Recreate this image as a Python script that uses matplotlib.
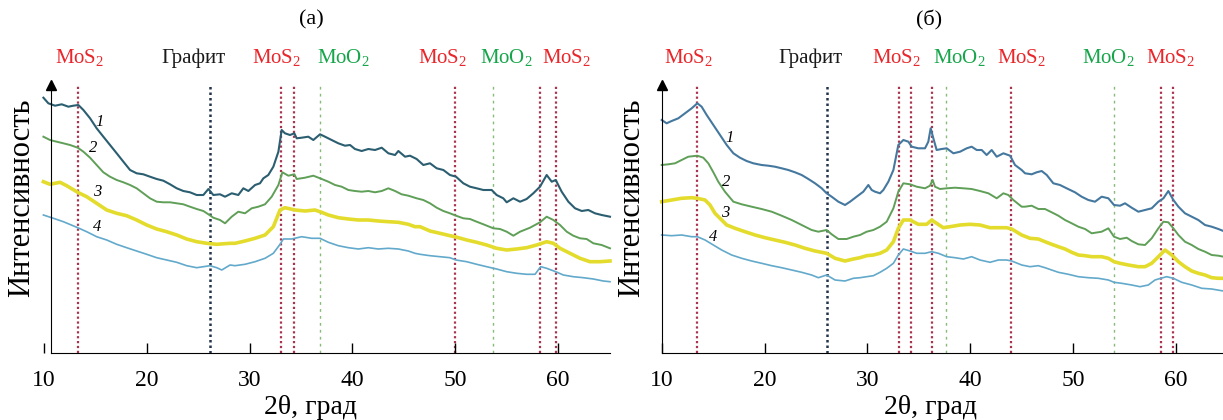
import matplotlib
matplotlib.use("Agg")
import matplotlib.pyplot as plt

plt.rcParams['font.family'] = ['Liberation Serif', 'DejaVu Serif']
plt.rcParams['mathtext.fontset'] = 'custom'
plt.rcParams['mathtext.rm'] = 'Liberation Serif'
plt.rcParams['mathtext.it'] = 'Liberation Serif:italic'

# ---- panel (a) curves: 2theta (deg), intensity (a.u.) ----
a1_x = [9.94, 10.42, 11.07, 11.72, 12.37, 12.85, 13.34, 13.83, 14.48, 15.12, 15.77, 16.42, 17.07, 17.72, 18.37, 19.01,
        19.66, 20.31, 20.96, 21.61, 22.26, 22.91, 23.55, 24.20, 24.85, 25.50, 25.99, 26.47, 27.12, 27.61, 28.26, 28.90,
        29.39, 29.88, 30.53, 31.01, 31.34, 31.82, 32.31, 32.80, 33.12, 33.44, 33.93, 34.35, 34.58, 35.07, 35.71, 36.20,
        36.85, 37.34, 37.98, 38.63, 39.28, 39.77, 40.25, 40.90, 41.55, 42.20, 42.85, 43.50, 44.15, 44.47, 45.12, 45.60,
        46.25, 46.90, 47.55, 48.20, 48.85, 49.49, 50.08, 50.79, 51.44, 52.09, 52.74, 53.55, 54.03, 54.68, 55.01, 55.66,
        56.31, 56.95, 57.60, 58.25, 58.90, 59.39, 59.78, 60.36, 61.01, 61.66, 62.31, 62.95, 63.60, 64.25, 65.06]
a1_y = [255.3, 249.7, 247.3, 248.7, 246.3, 247.3, 248.0, 243.0, 234.7, 224.7, 216.3, 208.0, 199.7, 191.3, 183.0, 179.7,
        178.7, 176.3, 174.0, 172.3, 168.7, 164.7, 162.0, 160.7, 158.0, 158.0, 164.0, 158.0, 158.7, 156.3, 159.7, 158.0,
        164.7, 162.0, 168.0, 169.7, 174.7, 178.0, 186.3, 201.3, 223.0, 219.7, 218.0, 219.7, 214.7, 215.3, 216.3, 213.0,
        218.7, 216.3, 213.0, 209.7, 207.3, 208.0, 204.0, 202.0, 204.0, 203.0, 205.3, 199.7, 198.0, 202.0, 196.3, 197.3,
        194.0, 188.0, 189.7, 184.7, 183.0, 178.0, 176.3, 169.7, 166.3, 164.7, 163.0, 163.0, 158.0, 154.7, 150.7, 154.7,
        151.3, 154.0, 159.7, 166.3, 178.0, 171.3, 173.0, 161.3, 151.3, 144.7, 142.0, 143.0, 139.7, 138.0, 136.3]

a2_x = [9.94, 10.58, 11.23, 11.88, 12.53, 13.28, 13.83, 14.48, 15.12, 15.77, 16.42, 17.07, 17.72, 18.37, 19.01, 19.66,
        20.31, 20.96, 21.61, 22.26, 22.91, 23.55, 24.20, 24.85, 25.50, 25.99, 26.47, 27.12, 27.61, 28.26, 28.90, 29.55,
        30.20, 30.85, 31.50, 32.15, 32.80, 33.19, 33.77, 34.35, 34.58, 35.39, 36.20, 36.85, 37.66, 38.31, 38.96, 39.61,
        40.25, 40.90, 41.55, 42.20, 42.85, 43.50, 44.15, 44.79, 45.44, 46.25, 46.90, 47.55, 48.20, 48.85, 49.49, 50.08,
        50.79, 51.44, 52.09, 52.74, 53.71, 54.36, 55.01, 55.66, 56.31, 57.28, 58.25, 58.90, 59.55, 60.20, 60.85, 61.49,
        62.14, 62.79, 63.44, 64.25, 65.06]
a2_y = [216.3, 213.0, 211.3, 209.7, 208.0, 205.3, 201.3, 195.3, 188.0, 180.7, 176.3, 173.0, 170.7, 168.0, 164.7, 159.7,
        154.7, 151.3, 150.7, 150.7, 149.7, 148.7, 146.3, 144.0, 142.0, 138.7, 135.3, 133.0, 129.7, 136.3, 141.3, 139.7,
        144.7, 146.3, 148.7, 156.3, 168.0, 180.7, 177.3, 178.7, 174.0, 175.3, 177.3, 174.7, 171.3, 168.0, 166.3, 163.0,
        162.0, 161.3, 162.0, 160.7, 162.0, 164.7, 162.0, 158.7, 157.3, 154.7, 153.0, 149.7, 145.3, 142.0, 139.7, 137.3,
        134.7, 134.0, 131.3, 128.7, 124.7, 124.0, 121.3, 117.3, 121.3, 125.3, 130.7, 136.3, 133.0, 128.0, 121.3, 117.3,
        114.7, 114.0, 109.7, 108.0, 104.7]

a3_x = [9.94, 10.58, 11.56, 12.20, 13.28, 14.15, 15.12, 16.10, 17.07, 18.04, 19.01, 19.99, 20.96, 21.93, 22.91, 23.88,
        24.85, 25.83, 26.80, 28.10, 28.58, 29.55, 30.53, 31.50, 32.31, 32.96, 33.44, 34.42, 35.39, 36.36, 37.01, 37.66,
        38.63, 39.61, 40.58, 41.55, 42.52, 43.50, 44.47, 45.44, 46.09, 46.58, 47.55, 48.52, 49.49, 50.08, 51.12, 52.09,
        53.06, 54.03, 55.01, 55.98, 56.95, 57.93, 58.90, 59.55, 60.20, 61.17, 62.14, 63.11, 64.09, 65.06]
a3_y = [171.3, 168.7, 170.7, 167.3, 160.7, 156.3, 149.7, 143.0, 139.7, 137.3, 133.0, 128.0, 124.0, 121.3, 118.0, 114.0,
        111.3, 109.7, 108.7, 109.7, 109.7, 112.0, 114.7, 118.0, 126.3, 143.0, 145.3, 143.0, 142.0, 143.0, 140.7, 138.0,
        135.3, 134.0, 133.0, 133.0, 132.0, 131.3, 130.7, 128.7, 126.3, 126.3, 122.0, 119.7, 117.3, 116.0, 113.0, 110.7,
        108.0, 104.7, 103.0, 104.0, 105.3, 108.0, 111.3, 109.7, 104.7, 99.7, 94.7, 91.3, 91.3, 92.0]

a4_x = [9.94, 10.91, 11.88, 13.28, 14.15, 15.12, 16.10, 17.07, 18.04, 19.01, 19.99, 20.96, 21.93, 22.91, 23.88, 24.85,
        25.50, 26.15, 26.80, 27.29, 28.10, 28.58, 29.55, 30.53, 31.50, 32.31, 32.96, 33.28, 34.09, 35.07, 36.04, 36.85,
        37.66, 38.63, 39.61, 40.58, 41.55, 42.52, 43.50, 44.47, 45.44, 46.09, 46.58, 47.55, 48.52, 49.49, 50.08, 51.12,
        52.09, 53.06, 54.03, 55.01, 55.98, 56.95, 57.77, 58.32, 58.90, 59.78, 60.52, 61.49, 62.47, 63.44, 64.41, 65.06]
a4_y = [138.0, 134.7, 131.3, 125.3, 121.3, 116.3, 113.0, 108.7, 105.3, 102.0, 98.7, 95.3, 93.0, 90.7, 87.3, 85.3,
        86.3, 87.3, 85.3, 83.0, 88.0, 87.3, 88.7, 91.3, 94.7, 99.7, 108.7, 114.0, 114.0, 116.3, 114.7, 114.7,
        110.7, 107.3, 105.3, 104.0, 105.3, 104.0, 104.7, 104.0, 102.0, 99.7, 98.7, 97.3, 96.3, 95.3, 93.0, 91.3,
        88.7, 86.3, 84.0, 81.3, 79.7, 78.7, 78.7, 86.3, 84.7, 81.3, 78.0, 76.3, 75.3, 74.0, 72.0, 71.3]

# ---- panel (б) curves ----
b1_x = [9.97, 10.45, 10.94, 11.59, 12.24, 12.89, 13.44, 13.86, 14.35, 15.00, 15.65, 16.30, 16.95, 17.59, 18.24, 18.89,
        19.70, 20.35, 21.00, 21.65, 22.30, 22.95, 23.60, 24.25, 24.90, 25.55, 26.03, 26.52, 27.17, 27.82, 28.31, 28.95,
        29.60, 30.09, 30.42, 30.74, 31.23, 31.55, 32.04, 32.53, 33.01, 33.50, 33.99, 34.31, 34.96, 35.61, 35.93, 36.16,
        36.42, 36.74, 37.23, 37.72, 38.37, 39.02, 39.67, 40.15, 40.64, 41.13, 41.61, 42.10, 42.59, 43.24, 43.89, 44.37,
        45.02, 45.35, 45.99, 46.48, 46.97, 47.46, 48.10, 48.75, 49.40, 50.21, 50.86, 51.51, 52.16, 52.81, 53.46, 54.01,
        54.60, 55.08, 55.73, 56.38, 57.03, 57.68, 58.33, 58.82, 59.30, 59.79, 60.28, 60.92, 61.58, 62.22, 62.87, 63.52,
        64.17, 64.66]
b1_y = [233.0, 229.7, 232.0, 234.7, 239.7, 244.7, 249.7, 246.3, 238.0, 228.0, 218.0, 208.0, 199.7, 195.3, 192.0, 189.7,
        188.0, 187.3, 186.3, 184.7, 183.0, 180.7, 178.0, 174.0, 169.7, 164.7, 159.7, 156.3, 151.3, 148.0, 151.3, 156.3,
        161.3, 168.0, 163.0, 161.3, 159.7, 163.0, 171.3, 183.0, 208.0, 213.0, 211.3, 206.3, 204.7, 204.7, 211.3, 224.7,
        214.7, 203.0, 204.0, 204.7, 199.7, 201.3, 204.7, 206.3, 203.0, 203.0, 198.0, 203.0, 196.3, 199.7, 197.3, 188.0,
        183.0, 179.7, 178.7, 180.7, 182.0, 178.0, 169.7, 168.0, 164.7, 160.7, 156.3, 153.0, 151.3, 156.3, 154.7, 148.0,
        147.3, 149.7, 145.3, 141.3, 143.0, 144.7, 151.3, 154.7, 162.0, 153.0, 146.3, 139.7, 136.3, 133.0, 128.0, 126.3,
        124.0, 122.0]

b2_x = [9.97, 10.62, 11.27, 11.91, 12.56, 13.44, 14.02, 14.51, 15.00, 15.48, 16.13, 16.95, 17.76, 18.73, 19.70, 20.68,
        21.65, 22.63, 23.60, 24.57, 25.22, 26.03, 26.52, 27.17, 27.98, 28.63, 29.28, 29.93, 30.58, 31.23, 31.88, 32.53,
        33.01, 33.50, 34.15, 34.80, 35.61, 36.09, 36.35, 36.58, 37.07, 37.72, 38.53, 39.34, 40.15, 40.96, 41.78, 42.59,
        43.24, 43.72, 44.21, 45.02, 45.35, 45.99, 46.64, 47.29, 47.94, 48.59, 49.24, 49.89, 50.54, 51.19, 51.84, 52.81,
        53.46, 54.01, 54.60, 55.25, 55.73, 56.38, 57.03, 57.68, 58.33, 58.82, 59.30, 59.79, 60.28, 60.92, 61.58, 62.22,
        62.87, 63.52, 64.17, 64.66]
b2_y = [188.0, 188.7, 189.7, 193.0, 196.3, 197.3, 195.3, 189.7, 180.7, 171.3, 161.3, 151.3, 148.7, 146.3, 144.0, 141.3,
        137.3, 133.0, 128.0, 123.0, 121.3, 123.0, 118.7, 114.0, 114.0, 116.3, 118.0, 121.3, 123.0, 126.3, 131.3, 144.7,
        161.3, 169.7, 168.7, 166.3, 164.7, 167.3, 173.0, 166.3, 164.0, 164.7, 165.3, 164.7, 164.0, 162.0, 159.7, 154.7,
        159.7, 158.0, 153.0, 146.3, 146.3, 147.3, 144.0, 144.0, 140.7, 137.3, 133.0, 129.7, 126.3, 124.0, 119.7, 121.3,
        124.7, 116.3, 114.0, 115.3, 112.0, 108.7, 108.0, 114.7, 124.7, 131.3, 130.7, 124.7, 118.0, 111.3, 108.0, 104.0,
        101.3, 98.0, 97.3, 96.3]

b3_x = [9.97, 10.94, 11.91, 12.89, 13.44, 14.19, 14.67, 15.16, 15.81, 16.30, 17.11, 18.08, 19.06, 20.03, 21.00, 21.98,
        22.95, 23.92, 24.90, 26.03, 26.85, 27.82, 28.63, 29.28, 29.93, 30.58, 31.23, 31.88, 32.53, 33.01, 33.50, 34.15,
        34.96, 35.77, 36.26, 36.74, 37.39, 38.04, 39.02, 39.99, 40.96, 41.94, 42.75, 43.56, 44.05, 45.02, 45.83, 46.64,
        47.29, 47.94, 48.59, 49.24, 49.89, 50.54, 51.19, 51.84, 52.81, 53.46, 54.01, 54.60, 55.41, 56.38, 57.03, 57.68,
        58.33, 58.98, 59.63, 60.28, 60.92, 61.58, 62.22, 62.87, 63.52, 64.17, 64.66]
b3_y = [151.3, 153.0, 154.7, 155.3, 154.7, 153.0, 148.0, 139.7, 133.0, 128.0, 124.7, 121.3, 118.0, 115.3, 113.0, 110.7,
        108.0, 104.7, 102.0, 99.7, 94.7, 92.0, 94.0, 95.3, 97.3, 98.0, 99.7, 103.0, 111.3, 124.7, 133.0, 133.0,
        128.7, 128.7, 133.0, 129.7, 125.3, 126.3, 128.0, 128.7, 128.0, 125.3, 125.3, 125.3, 124.0, 118.0, 114.7, 114.0,
        111.3, 108.7, 106.3, 104.0, 100.7, 98.0, 97.3, 96.3, 96.3, 94.7, 91.3, 89.7, 88.0, 86.3, 86.3, 89.7,
        96.3, 103.0, 98.0, 91.3, 86.3, 82.0, 79.7, 78.0, 75.3, 74.7, 74.7]

b4_x = [9.97, 10.94, 11.91, 12.89, 13.44, 14.19, 15.00, 15.81, 16.78, 17.76, 18.73, 19.70, 20.68, 21.65, 22.63, 23.60,
        24.57, 25.22, 26.03, 26.85, 27.82, 28.63, 29.28, 29.93, 30.58, 31.23, 31.88, 32.53, 33.01, 33.50, 34.15, 34.80,
        35.61, 36.26, 36.91, 37.72, 38.53, 39.34, 40.15, 40.96, 41.94, 42.75, 43.56, 44.05, 45.02, 45.83, 46.64, 47.29,
        47.94, 48.59, 49.57, 50.54, 51.51, 52.49, 53.46, 54.01, 54.76, 55.73, 56.54, 57.35, 58.00, 58.56, 59.14, 59.79,
        60.60, 61.58, 62.55, 63.52, 64.66]
b4_y = [118.0, 117.3, 118.0, 116.3, 116.3, 113.0, 108.0, 103.0, 98.0, 94.7, 92.0, 89.7, 87.3, 85.3, 83.0, 80.7,
        78.0, 75.3, 78.0, 73.0, 72.0, 74.7, 75.3, 76.3, 77.3, 80.7, 84.7, 89.7, 98.0, 104.0, 102.0, 99.7,
        99.7, 101.3, 99.7, 96.3, 95.3, 94.0, 96.3, 93.0, 90.7, 93.0, 93.0, 92.0, 88.0, 86.3, 87.3, 85.3,
        83.0, 80.7, 78.7, 76.3, 75.3, 74.7, 73.0, 70.7, 69.7, 68.0, 66.3, 68.0, 73.0, 74.7, 76.3, 74.7,
        70.7, 68.0, 64.7, 64.0, 62.0]

# ---- reference lines and labels ----
a_mos2 = [13.3, 33.1, 34.3, 50.0, 58.25, 59.8]
a_graphite = [26.1]
a_moo2 = [36.85, 53.65]
b_mos2 = [13.45, 33.1, 34.25, 36.3, 44.0, 58.55, 59.8]
b_graphite = [26.03]
b_moo2 = [37.65, 54.0]

a_labels = [('MoS$_2$', 13.5), ('Графит', 24.5), ('MoS$_2$', 32.6), ('MoO$_2$', 39.1),
            ('MoS$_2$', 48.8), ('MoO$_2$', 55.0), ('MoS$_2$', 60.8)]
b_labels = [('MoS$_2$', 12.6), ('Графит', 24.5), ('MoS$_2$', 32.8), ('MoO$_2$', 39.0),
            ('MoS$_2$', 45.0), ('MoO$_2$', 53.5), ('MoS$_2$', 59.5)]
a_nums = [('1', 15.45, 231), ('2', 14.8, 205), ('3', 15.2, 161), ('4', 15.2, 126)]
b_nums = [('1', 16.6, 215), ('2', 16.2, 171), ('3', 16.2, 140), ('4', 15.0, 116)]

label_colors = {'MoS$_2$': '#e8262b', 'MoO$_2$': '#16a54a', 'Графит': '#1a1a1a'}

fig = plt.figure(figsize=(12.23, 4.2), dpi=100)
ax_a = fig.add_axes([43 / 1223, 67 / 420, 567.4 / 1223, 268 / 420])
ax_b = fig.add_axes([662 / 1223, 67 / 420, 561.8 / 1223, 268 / 420])


def draw_panel(ax, curves, c1, mos2, graphite, moo2, labels, nums, title, xlim, yaxis_x):
    for xv in mos2:
        ax.axvline(xv, color='#a8344f', lw=1.6, ls=(0, (1, 1.2)), zorder=1)
    for xv in graphite:
        ax.axvline(xv, color='#23344a', lw=1.8, ls=(0, (1, 1.2)), zorder=1)
    for xv in moo2:
        ax.axvline(xv, color='#86bb7a', lw=1.0, ls=(0, (2, 3)), zorder=1)

    colors = [c1, '#5f9f57', '#e4dc2c', '#62a9cb']
    widths = [1.5, 1.4, 2.6, 1.2]
    for (xs, ys), col, w in zip(curves, colors, widths):
        ax.plot(xs, ys, color=col, lw=w, zorder=2, clip_on=False)

    for txt, xv, yv in nums:
        ax.text(xv, yv, txt, fontsize=12, style='italic', ha='center', va='center', zorder=3)

    for txt, xv in labels:
        ax.text(xv, 295, txt, color=label_colors[txt], fontsize=15, ha='center', va='center', clip_on=False)
    ax.text(36.0, 333, title, fontsize=16, ha='center', va='center', clip_on=False)

    ax.set_xlim(*xlim)
    ax.set_ylim(0, 268)
    ax.spines['top'].set_visible(False)
    ax.spines['right'].set_visible(False)
    ax.spines['left'].set_position(('data', yaxis_x))
    ax.spines['bottom'].set_bounds(yaxis_x, xlim[1])
    ax.plot([yaxis_x], [268], marker='^', color='k', ms=7, clip_on=False, zorder=4)
    ax.set_yticks([])
    ax.set_xticks([10, 20, 30, 40, 50, 60])
    ax.tick_params(axis='x', direction='in', length=7, width=1, labelsize=17, pad=12)


draw_panel(ax_a, [(a1_x, a1_y), (a2_x, a2_y), (a3_x, a3_y), (a4_x, a4_y)], '#2b5e70',
           a_mos2, a_graphite, a_moo2, a_labels, a_nums, '(a)', (9.9, 65.1), 10.68)
draw_panel(ax_b, [(b1_x, b1_y), (b2_x, b2_y), (b3_x, b3_y), (b4_x, b4_y)], '#45789f',
           b_mos2, b_graphite, b_moo2, b_labels, b_nums, '(б)', (10.0, 64.7), 10.0)

# axis titles placed in figure pixels
for xc in (310, 930):
    fig.text(xc / 1223, 1 - 407 / 420, '2θ, град', fontsize=20, ha='center', va='center')
for xc in (22, 632):
    fig.text(xc / 1223, 1 - 198 / 420, 'Интенсивность', fontsize=22, rotation=90,
             ha='center', va='center')

fig.savefig('out.png', dpi=100)
